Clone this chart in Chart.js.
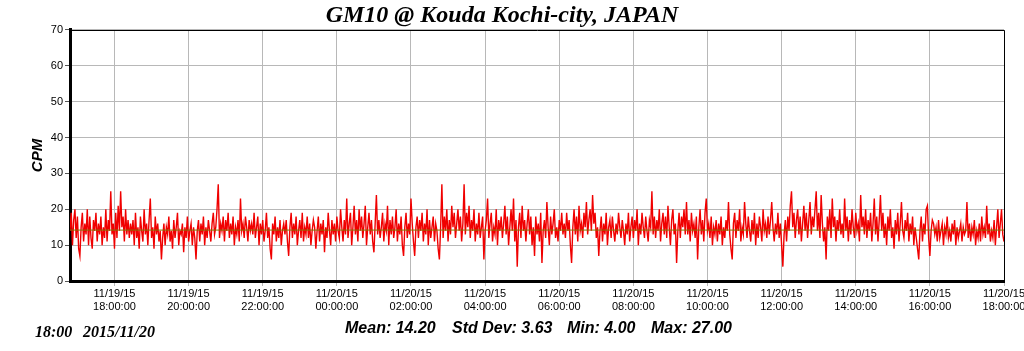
<!DOCTYPE html>
<html>
<head>
<meta charset="utf-8">
<script src="https://cdn.jsdelivr.net/npm/chart.js@4/dist/chart.umd.min.js"></script>
<style>
  html, body { margin: 0; padding: 0; background: #fff; }
  #wrap { width: 1024px; height: 351px; }
</style>
</head>
<body>
<div id="wrap"><canvas id="cpm-chart" width="1024" height="351"></canvas></div>
<script>
// chart texts
const chartTitle = 'GM10 @ Kouda Kochi-city, JAPAN';
const yTitle = 'CPM';
const statsText = ['Mean: 14.20', 'Std Dev: 3.63', 'Min: 4.00', 'Max: 27.00'];
const stampText = ['18:00', '2015/11/20'];

// x axis: minutes from 11/19/15 18:00, one reading every 2 minutes from 16:48
const startMinute = -72;
const endMinute = 1440;
const stepMinutes = 2;
const xTickValues = [0, 120, 240, 360, 480, 600, 720, 840, 960, 1080, 1200, 1320, 1440];
const xTickLabels = [
  ['11/19/15', '18:00:00'], ['11/19/15', '20:00:00'], ['11/19/15', '22:00:00'],
  ['11/20/15', '00:00:00'], ['11/20/15', '02:00:00'], ['11/20/15', '04:00:00'],
  ['11/20/15', '06:00:00'], ['11/20/15', '08:00:00'], ['11/20/15', '10:00:00'],
  ['11/20/15', '12:00:00'], ['11/20/15', '14:00:00'], ['11/20/15', '16:00:00'],
  ['11/20/15', '18:00:00']
];
const yTickValues = [0, 10, 20, 30, 40, 50, 60, 70];
const meanValue = 14.2;

// counts per minute
const cpm = [
  14,19,10,17,20,12,18,9,7,15,19,11,16,13,20,10,18,12,9,17,14,19,11,16,13,
  18,10,15,12,20,11,17,14,25,13,16,9,19,12,21,14,25,15,18,11,20,13,17,12,16,
  13,17,10,19,12,15,9,18,14,11,20,13,16,10,17,23,12,15,9,18,13,16,11,14,6,
  12,16,10,15,13,18,11,14,9,17,12,15,19,10,14,13,16,8,15,12,18,11,14,16,10,
  15,12,6,14,17,11,16,13,18,10,15,12,17,14,11,16,19,13,15,20,27,12,16,14,18,
  11,17,14,19,12,16,13,18,10,15,13,17,11,23,14,16,12,18,15,11,17,14,16,13,19,
  12,15,18,10,16,13,17,11,14,19,12,15,9,6,16,13,18,11,15,12,17,10,14,16,13,
  17,11,7,15,19,12,16,13,18,10,14,17,12,19,11,15,13,18,12,16,10,14,17,15,9,
  14,18,11,16,13,17,8,15,12,19,14,10,17,13,16,11,18,14,12,20,15,11,17,13,23,
  12,16,19,10,15,21,13,17,11,20,14,18,12,16,21,10,15,19,13,17,11,8,16,24,13,
  17,12,15,19,11,16,14,21,10,17,13,18,12,15,20,11,16,13,18,10,7,15,19,12,16,
  13,23,16,11,7,15,18,12,17,14,19,11,16,13,20,10,17,12,15,18,11,16,14,9,6,
  15,27,12,18,14,20,11,17,13,21,15,19,12,16,20,14,18,11,16,27,13,19,15,21,12,
  17,14,20,11,16,13,19,12,15,18,6,14,17,23,12,16,19,11,15,13,20,10,17,14,18,
  12,16,21,13,18,10,15,20,14,23,11,17,4,15,19,12,21,14,17,11,16,20,13,18,10,
  15,7,18,13,16,11,19,5,14,17,12,22,15,10,18,13,16,20,12,15,11,17,14,19,13,
  16,12,19,14,17,10,5,15,20,13,18,11,21,14,16,12,19,15,22,13,17,20,14,24,16,
  19,12,15,7,14,18,11,16,13,19,10,15,17,12,18,14,11,16,13,19,15,12,17,14,10,
  16,13,19,11,15,18,12,17,14,20,10,16,13,19,15,12,18,14,11,17,15,25,13,18,12,
  17,14,20,11,16,19,13,18,12,21,15,10,17,20,13,16,5,14,19,12,18,15,20,13,22,
  13,17,11,19,14,16,12,18,6,15,20,13,17,11,19,23,14,16,12,18,10,15,13,17,11,
  16,13,18,10,15,12,17,14,22,13,9,6,16,19,12,17,14,20,11,15,13,22,16,12,18,
  14,11,17,13,19,10,16,12,18,15,11,20,14,16,12,18,13,17,22,15,11,16,13,19,12,
  16,10,4,13,17,11,18,14,21,25,15,19,12,17,20,13,18,11,16,21,14,19,12,17,22,
  13,18,15,20,25,14,19,12,24,16,11,15,6,18,14,20,12,23,15,18,11,17,14,20,13,
  16,12,23,14,18,11,17,13,20,15,12,19,14,16,11,24,15,18,13,20,12,17,14,19,11,
  16,23,13,18,11,17,24,14,19,12,16,10,18,14,20,12,15,9,17,13,19,11,16,22,14,
  12,17,14,19,11,16,13,18,10,15,12,9,6,14,18,11,16,13,20,21,12,7,14,17,16,
  13,15,11,17,12,14,16,10,15,13,18,12,14,11,16,13,17,10,15,12,14,16,11,15,13,
  14,22,12,16,11,15,13,17,10,14,12,16,11,18,13,15,12,21,13,16,11,14,12,17,10,
  15,20,12,16,20,13,11
];

const points = cpm.map((v, i) => ({ x: startMinute + i * stepMinutes, y: v }));
const meanPoints = [{ x: startMinute, y: meanValue }, { x: endMinute, y: meanValue }];

// frame, rotated axis title and the texts under the chart
const extras = {
  id: 'extras',
  afterDraw(chart) {
    const { ctx, chartArea: a } = chart;
    ctx.save();
    ctx.strokeStyle = '#000';
    ctx.lineWidth = 1;
    ctx.beginPath();
    ctx.moveTo(a.left, a.top + 0.5);
    ctx.lineTo(a.right + 0.5, a.top + 0.5);
    ctx.lineTo(a.right + 0.5, a.bottom);
    ctx.stroke();

    ctx.fillStyle = '#000';
    ctx.textBaseline = 'alphabetic';
    ctx.textAlign = 'left';
    ctx.font = 'bold italic 16px "Liberation Sans", Arial, sans-serif';
    const statsX = [345, 452, 567, 651];
    statsText.forEach((t, i) => ctx.fillText(t, statsX[i], 333));

    ctx.font = 'bold italic 16px "Liberation Serif", "Times New Roman", serif';
    ctx.fillText(stampText[0], 35, 337);
    ctx.fillText(stampText[1], 83, 337);

    ctx.translate(38, (a.top + a.bottom) / 2);
    ctx.rotate(-Math.PI / 2);
    ctx.textAlign = 'center';
    ctx.textBaseline = 'middle';
    ctx.font = 'bold italic 15px "Liberation Sans", Arial, sans-serif';
    ctx.fillText(yTitle, 0, 0);
    ctx.restore();
  }
};

const tickFont = { family: '"Liberation Sans", Arial, sans-serif', size: 11 };

new Chart(document.getElementById('cpm-chart'), {
  type: 'line',
  data: {
    datasets: [
      {
        label: 'Mean',
        data: meanPoints,
        borderColor: '#857200',
        borderWidth: 1,
        pointRadius: 0
      },
      {
        label: 'CPM',
        data: points,
        borderColor: '#f00000',
        borderWidth: 1.4,
        pointRadius: 0,
        tension: 0
      }
    ]
  },
  options: {
    responsive: false,
    animation: false,
    events: [],
    layout: { padding: { left: 0, right: 20, top: 0, bottom: 0 } },
    plugins: {
      legend: { display: false },
      tooltip: { enabled: false },
      title: {
        display: true,
        text: chartTitle,
        color: '#000',
        font: { family: '"Liberation Serif", "Times New Roman", serif', size: 24, weight: 'bold', style: 'italic' },
        padding: { top: 1, bottom: 0.2 }
      }
    },
    scales: {
      x: {
        type: 'linear',
        min: startMinute,
        max: endMinute,
        afterBuildTicks: (scale) => { scale.ticks = xTickValues.map(v => ({ value: v })); },
        afterFit: (scale) => { scale.height = 70; scale.paddingLeft = 0; scale.paddingRight = 0; },
        ticks: {
          autoSkip: false,
          maxRotation: 0,
          padding: 1,
          color: '#000',
          font: tickFont,
          callback: (value, index) => xTickLabels[index]
        },
        grid: { color: '#b8b8b8', tickColor: '#b8b8b8', tickLength: 5 },
        border: { color: '#000', width: 3 }
      },
      y: {
        min: 0,
        max: 70,
        afterBuildTicks: (scale) => { scale.ticks = yTickValues.map(v => ({ value: v })); },
        afterFit: (scale) => { scale.width = 70; scale.paddingTop = 0; scale.paddingBottom = 0; },
        ticks: { padding: 2, color: '#000', font: tickFont },
        grid: { color: '#b8b8b8', tickColor: '#555', tickLength: 5 },
        border: { color: '#000', width: 3 }
      }
    }
  },
  plugins: [extras]
});
</script>
</body>
</html>
